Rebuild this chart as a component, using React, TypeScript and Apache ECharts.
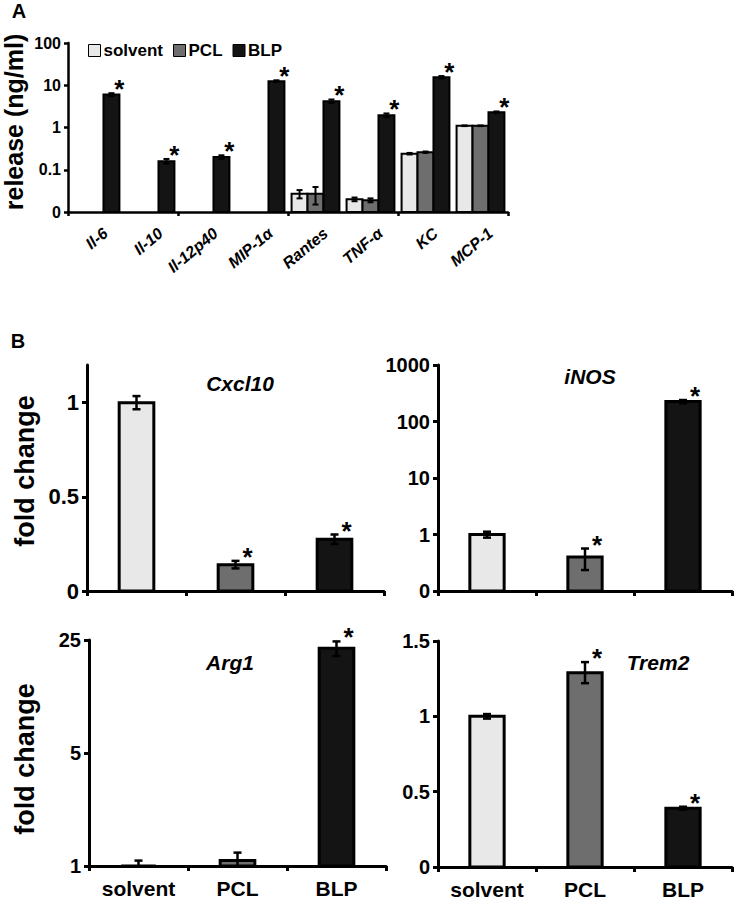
import React, { useEffect, useRef } from 'react';
import * as echarts from 'echarts';

const FONT = '"Liberation Sans", Arial, Helvetica, sans-serif';

// ---------- Panel A data ----------
const cytokines = ['Il-6', 'Il-10', 'Il-12p40', 'MIP-1α', 'Rantes', 'TNF-α', 'KC', 'MCP-1'];
const solventRelease = [null, null, null, null, 0.027, 0.020, 0.24, 1.1];
const solventReleaseErr = [null, null, null, null, 0.006, 0.002, 0.01, 0.02];
const pclRelease = [null, null, null, null, 0.027, 0.019, 0.26, 1.1];
const pclReleaseErr = [null, null, null, null, 0.012, 0.002, 0.01, 0.02];
const blpRelease = [6.0, 0.16, 0.2, 12.5, 4.2, 1.95, 15.5, 2.3];
const blpReleaseErr = [0.5, 0.02, 0.02, 0.6, 0.4, 0.2, 1.0, 0.1];
const blpReleaseSig = [1, 1, 1, 1, 1, 1, 1, 1];

// ---------- Panel B data ----------
const treatments = ['solvent', 'PCL', 'BLP'];
const cxcl10 = [1.0, 0.14, 0.275];
const cxcl10Err = [0.035, 0.02, 0.025];
const cxcl10Sig = [0, 1, 1];
const inos = [1.0, 0.4, 225];
const inosErr = [0.12, 0.165, 15];
const inosSig = [0, 1, 1];
const arg1 = [1.0, 1.08, 22.2];
const arg1Err = [0.08, 0.13, 2.3];
const arg1Sig = [0, 0, 1];
const trem2 = [1.0, 1.29, 0.39];
const trem2Err = [0.015, 0.07, 0.01];
const trem2Sig = [0, 1, 1];

const COLORS = ['#e8e8e8', '#6e6e6e', '#141414'];

type Num = number | null;

function mkData(vals: Num[], errs: Num[], sigs?: number[]) {
  const out: number[][] = [];
  vals.forEach((v, i) => {
    if (v == null) return;
    out.push([i, v, errs[i] ?? 0, sigs ? sigs[i] : 0]);
  });
  return out;
}

function renderer(o: {
  min: number; max: number; groupCount: number; groupIndex: number;
  widthFrac: number; border: number; errW: number; cap: number;
  starDx: (bw: number) => number; colors?: string[]; starSize: number;
}) {
  return (_params: any, api: any) => {
    const idx = api.value(0);
    const v = api.value(1);
    if (v == null || isNaN(v)) return null;
    const e = api.value(2) || 0;
    const sig = api.value(3);
    const band = api.size([1, 0])[0];
    const bw = band * o.widthFrac;
    const c = api.coord([idx, v]);
    const base = api.coord([idx, o.min]);
    const cx = c[0] + (o.groupIndex - (o.groupCount - 1) / 2) * bw;
    const top = c[1];
    const hi = Math.min(v + e, o.max);
    const lo = Math.max(v - e, o.min);
    const yHi = api.coord([idx, hi])[1];
    const yLo = api.coord([idx, lo])[1];
    const fill = o.colors ? o.colors[idx] : api.visual('color');
    const children: any[] = [
      {
        type: 'rect',
        shape: { x: cx - bw / 2, y: top, width: bw, height: base[1] - top },
        style: { fill, stroke: '#000', lineWidth: o.border },
      },
    ];
    if (e > 0) {
      children.push(
        { type: 'line', shape: { x1: cx, y1: yHi, x2: cx, y2: yLo }, style: { stroke: '#000', lineWidth: o.errW } },
        { type: 'line', shape: { x1: cx - o.cap, y1: yHi, x2: cx + o.cap, y2: yHi }, style: { stroke: '#000', lineWidth: o.errW } },
      );
      if (v - e > o.min) {
        children.push({ type: 'line', shape: { x1: cx - o.cap, y1: yLo, x2: cx + o.cap, y2: yLo }, style: { stroke: '#000', lineWidth: o.errW } });
      }
    }
    if (sig) {
      children.push({
        type: 'text',
        x: cx + o.starDx(bw),
        y: yHi - 4,
        style: {
          text: '*', fill: '#000', align: 'center', verticalAlign: 'middle',
          fontFamily: FONT, fontWeight: 'bold', fontSize: o.starSize,
        },
      });
    }
    return { type: 'group', children };
  };
}

function logLabel(zeroAt: number) {
  return (v: number) => {
    const r = Number(Number(v).toPrecision(6));
    if (Math.abs(r - zeroAt) < zeroAt * 1e-3) return '0';
    return String(r);
  };
}

const axisLineB = { show: true, lineStyle: { color: '#000', width: 3 } };
const axisTickB = { show: true, length: 5, lineStyle: { color: '#000', width: 3 } };

function catAxisB(gridIndex: number, showLabels: boolean) {
  return {
    gridIndex,
    type: 'category',
    data: treatments,
    axisLine: axisLineB,
    axisTick: axisTickB,
    axisLabel: {
      show: showLabels, color: '#000', fontFamily: FONT, fontWeight: 'bold', fontSize: 21, margin: 12,
    },
  };
}

function bSeries(name: string, grid: number, vals: number[], errs: number[], sigs: number[], min: number, max: number) {
  return {
    type: 'custom',
    name,
    xAxisIndex: grid,
    yAxisIndex: grid,
    encode: { x: 0, y: 1 },
    data: mkData(vals, errs, sigs),
    renderItem: renderer({
      min, max, groupCount: 1, groupIndex: 0, widthFrac: 0.35, border: 3, errW: 2.5, cap: 4,
      starDx: () => 12, colors: COLORS, starSize: 26,
    }),
  };
}

function aSeries(name: string, gi: number, vals: Num[], errs: Num[], sigs?: number[]) {
  return {
    type: 'custom',
    name,
    xAxisIndex: 0,
    yAxisIndex: 0,
    encode: { x: 0, y: 1 },
    itemStyle: { color: COLORS[gi] },
    data: mkData(vals, errs, sigs),
    renderItem: renderer({
      min: 0.01, max: 100, groupCount: 3, groupIndex: gi, widthFrac: 0.29, border: 2, errW: 2, cap: 3,
      starDx: (bw) => bw / 2, starSize: 26,
    }),
  };
}

const txt = (text: string, x: number, y: number, size: number, extra: any = {}) => ({
  type: 'text',
  x, y,
  rotation: extra.rotation || 0,
  style: {
    text, fill: '#000', align: extra.align || 'center', verticalAlign: 'middle',
    font: `${extra.italic ? 'italic ' : ''}bold ${size}px ${FONT}`,
  },
});

const baseGraphic = [
  txt('A', 19, 11, 20),
  txt('B', 18, 341, 20),
  txt('release (ng/ml)', 14, 122, 25, { rotation: Math.PI / 2 }),
  txt('fold change', 25, 471, 27, { rotation: Math.PI / 2 }),
  txt('fold change', 25, 759, 27, { rotation: Math.PI / 2 }),
  txt('Cxcl10', 240, 383, 21, { italic: true }),
  txt('iNOS', 590, 376, 21, { italic: true }),
  txt('Arg1', 230, 662, 21, { italic: true }),
  txt('Trem2', 658, 662, 21, { italic: true }),
];

const option: any = {
  animation: false,
  backgroundColor: '#fff',
  textStyle: { fontFamily: FONT },
  grid: [
    { left: 68, top: 43, width: 440, height: 169 },
    { left: 87, top: 365, width: 297, height: 226 },
    { left: 438, top: 365, width: 294, height: 226 },
    { left: 89, top: 640, width: 297, height: 226 },
    { left: 438, top: 641, width: 294, height: 226 },
  ],
  legend: {
    data: ['solvent', 'PCL', 'BLP'],
    left: 83, top: 37,
    itemWidth: 12, itemHeight: 12, itemGap: 10,
    icon: 'rect',
    itemStyle: { borderColor: '#000', borderWidth: 1 },
    textStyle: { fontFamily: FONT, fontWeight: 'bold', fontSize: 17, color: '#000', padding: [0, 0, 0, -2] },
  },
  xAxis: [
    {
      gridIndex: 0,
      type: 'category',
      data: cytokines,
      axisLine: { show: true, lineStyle: { color: '#000', width: 2.5 } },
      axisTick: { show: true, length: 4, lineStyle: { color: '#000', width: 2.5 } },
      axisLabel: { show: false },
    },
    catAxisB(1, false),
    catAxisB(2, false),
    catAxisB(3, true),
    catAxisB(4, true),
  ],
  yAxis: [
    {
      gridIndex: 0, type: 'log', logBase: 10, min: 0.01, max: 100,
      axisLine: { show: true, lineStyle: { color: '#000', width: 2.5 } },
      axisTick: { show: true, length: 4, lineStyle: { color: '#000', width: 2.5 } },
      splitLine: { show: false },
      axisLabel: { formatter: logLabel(0.01), color: '#000', fontFamily: FONT, fontWeight: 'bold', fontSize: 16, margin: 7 },
    },
    {
      gridIndex: 1, type: 'value', min: 0, max: 1.2,
      axisLine: axisLineB,
      axisTick: { ...axisTickB, customValues: [0, 0.5, 1] },
      splitLine: { show: false },
      axisLabel: { customValues: [0, 0.5, 1], formatter: (v: number) => String(v), color: '#000', fontFamily: FONT, fontWeight: 'bold', fontSize: 22, margin: 8 },
    },
    {
      gridIndex: 2, type: 'log', logBase: 10, min: 0.1, max: 1000,
      axisLine: axisLineB,
      axisTick: axisTickB,
      splitLine: { show: false },
      axisLabel: { formatter: logLabel(0.1), color: '#000', fontFamily: FONT, fontWeight: 'bold', fontSize: 20, margin: 8 },
    },
    {
      gridIndex: 3, type: 'log', logBase: 5, min: 1, max: 25,
      axisLine: axisLineB,
      axisTick: axisTickB,
      splitLine: { show: false },
      axisLabel: { formatter: (v: number) => String(Number(Number(v).toPrecision(6))), color: '#000', fontFamily: FONT, fontWeight: 'bold', fontSize: 20, margin: 8 },
    },
    {
      gridIndex: 4, type: 'value', min: 0, max: 1.5, interval: 0.5,
      axisLine: axisLineB,
      axisTick: axisTickB,
      splitLine: { show: false },
      axisLabel: { formatter: (v: number) => String(v), color: '#000', fontFamily: FONT, fontWeight: 'bold', fontSize: 20, margin: 8 },
    },
  ],
  series: [
    aSeries('solvent', 0, solventRelease, solventReleaseErr),
    aSeries('PCL', 1, pclRelease, pclReleaseErr),
    aSeries('BLP', 2, blpRelease, blpReleaseErr, blpReleaseSig),
    bSeries('Cxcl10', 1, cxcl10, cxcl10Err, cxcl10Sig, 0, 1.2),
    bSeries('iNOS', 2, inos, inosErr, inosSig, 0.1, 1000),
    bSeries('Arg1', 3, arg1, arg1Err, arg1Sig, 1, 25),
    bSeries('Trem2', 4, trem2, trem2Err, trem2Sig, 0, 1.5),
  ],
  graphic: baseGraphic,
};

export default function App() {
  const ref = useRef<HTMLDivElement>(null);
  useEffect(() => {
    if (!ref.current) return;
    const chart = echarts.init(ref.current, null, { renderer: 'svg' });
    chart.setOption(option);
    // rotated cytokine labels, positioned through panel A's axes
    const labels = cytokines.map((name, i) => {
      const p = chart.convertToPixel({ xAxisIndex: 0, yAxisIndex: 0 } as any, [i, 0.01]) as number[];
      return txt(name, p[0] + 10, p[1] + 19, 16, { italic: true, align: 'right', rotation: (40 * Math.PI) / 180 });
    });
    chart.setOption({ graphic: [...baseGraphic, ...labels] });
    return () => chart.dispose();
  }, []);
  return (
    <div
      ref={ref}
      style={{ position: 'absolute', left: 0, top: 0, width: 742, height: 920, background: '#fff' }}
    />
  );
}
